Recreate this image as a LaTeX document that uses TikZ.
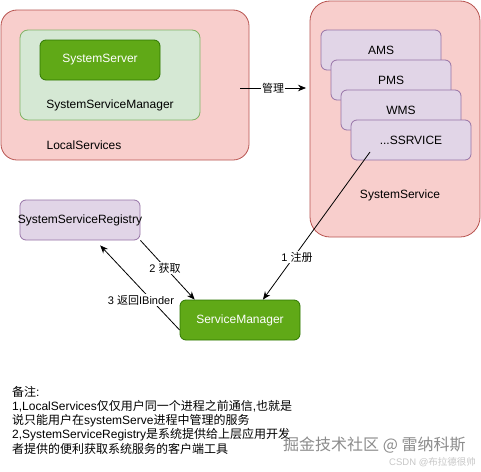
\documentclass[tikz,border=0pt]{standalone}
\usepackage{fontspec}
\setmainfont{Liberation Sans}
\newfontfamily\cjk{Noto Sans CJK SC}
\usetikzlibrary{arrows.meta,calc}
\definecolor{redfill}{HTML}{F8CECC}
\definecolor{redline}{HTML}{B85450}
\definecolor{lgfill}{HTML}{D5E8D4}
\definecolor{lgline}{HTML}{82B366}
\definecolor{dgfill}{HTML}{60A917}
\definecolor{dgline}{HTML}{2D7600}
\definecolor{pufill}{HTML}{E1D5E7}
\definecolor{puline}{HTML}{9673A6}
\tikzset{
  base/.style={font=\fontsize{12}{14}\selectfont, inner sep=0pt, line width=0.8pt},
  redbox/.style={base, draw=redline, fill=redfill, rounded corners=16pt},
  lgbox/.style={base, draw=lgline, fill=lgfill, rounded corners=8pt},
  dgbox/.style={base, draw=dgline, fill=dgfill, rounded corners=6pt, text=white, minimum width=120pt, minimum height=40pt},
  pubox/.style={base, draw=puline, fill=pufill, rounded corners=6pt, minimum width=120pt, minimum height=40pt},
  txt/.style={font=\fontsize{12}{14}\selectfont, inner sep=0pt},
  noteline/.style={txt, anchor=base west},
  lbl/.style={font=\fontsize{11}{13}\selectfont, fill=white, inner sep=1pt},
  conn/.style={line width=0.8pt, -{Stealth[length=8pt,width=6.5pt]}}
}
\begin{document}
\begin{tikzpicture}[x=1pt,y=-1pt]
\useasboundingbox[fill=white] (0,0) rectangle (481,471);

% LocalServices
\node[redbox, minimum width=248pt, minimum height=150pt] (ls) at (125,85) {};
\node[lgbox, minimum width=180pt, minimum height=90pt] (ssm) at (110,75) {};
\node[dgbox] (ss) at (100,60) {SystemServer};
\node[txt] (ssmt) at (110,105) {SystemServiceManager};
\node[txt] (lst) at (84,145) {LocalServices};

% SystemService
\node[redbox, rounded corners=20pt, minimum width=170pt, minimum height=236pt] (sys) at (395,119) {};
\node[pubox] (ams) at (381,50) {AMS};
\node[pubox] (pms) at (391,80) {PMS};
\node[pubox] (wms) at (401,110) {WMS};
\node[pubox] (etc) at (411,140) {...SSRVICE};
\node[txt] (syst) at (400,195) {SystemService};

% manage arrow
\coordinate (m1) at (240,88);
\coordinate (m2) at (306,88);
\draw[conn] (m1) -- node[lbl] {\cjk 管理} (m2);

% bottom nodes
\node[pubox] (reg) at (80,220) {\kern-2pt SystemServiceRegistry\kern-2pt};
\node[dgbox] (sm) at (240,320) {ServiceManager};

\coordinate (s1) at (370,152);
\coordinate (smt) at ($(sm.north west)!0.69!(sm.north east)$);
\draw[conn] (s1) -- (smt);
\node[lbl] at (297,257) {1 {\cjk 注册}};

\coordinate (smt2) at ($(sm.north west)!0.125!(sm.north east)$);
\draw[conn] (reg.south east) -- (smt2);
\node[lbl] at (165,268) {2 {\cjk 获取}};

\coordinate (regb) at ($(reg.south west)!0.667!(reg.south east)$);
\coordinate (smw) at ($(sm.west)+(0,10)$);
\draw[conn] (smw) -- ($(regb)+(0,5)$);
\node[lbl] at (141,300) {3 {\cjk 返回}IBinder};

% notes
\node[noteline] (n0) at (12,396.5) {{\cjk 备注}:};
\node[noteline] (n1) at (12,410) {1,LocalServices{\cjk 仅仅用户同一个进程之前通信},{\cjk 也就是}};
\node[noteline] (n2) at (12,424.5) {{\cjk 说只能用户在}systemServe{\cjk 进程中管理的服务}};
\node[noteline] (n3) at (12,438.5) {2,SystemServiceRegistry{\cjk 是系统提供给上层应用开发}};
\node[noteline] (n4) at (12,453) {{\cjk 者提供的便利获取系统服务的客户端工具}};

% watermark
\node[txt, anchor=west, text=black!45, font=\fontsize{16}{18}\selectfont] (wm) at (283,445) {\cjk 掘金技术社区 @ 雷纳科斯};
\node[txt, anchor=west, text=black!22, font=\fontsize{9.5}{11}\selectfont] (wm2) at (389,462) {CSDN @{\cjk 布拉德很帅}};
\end{tikzpicture}
\end{document}
